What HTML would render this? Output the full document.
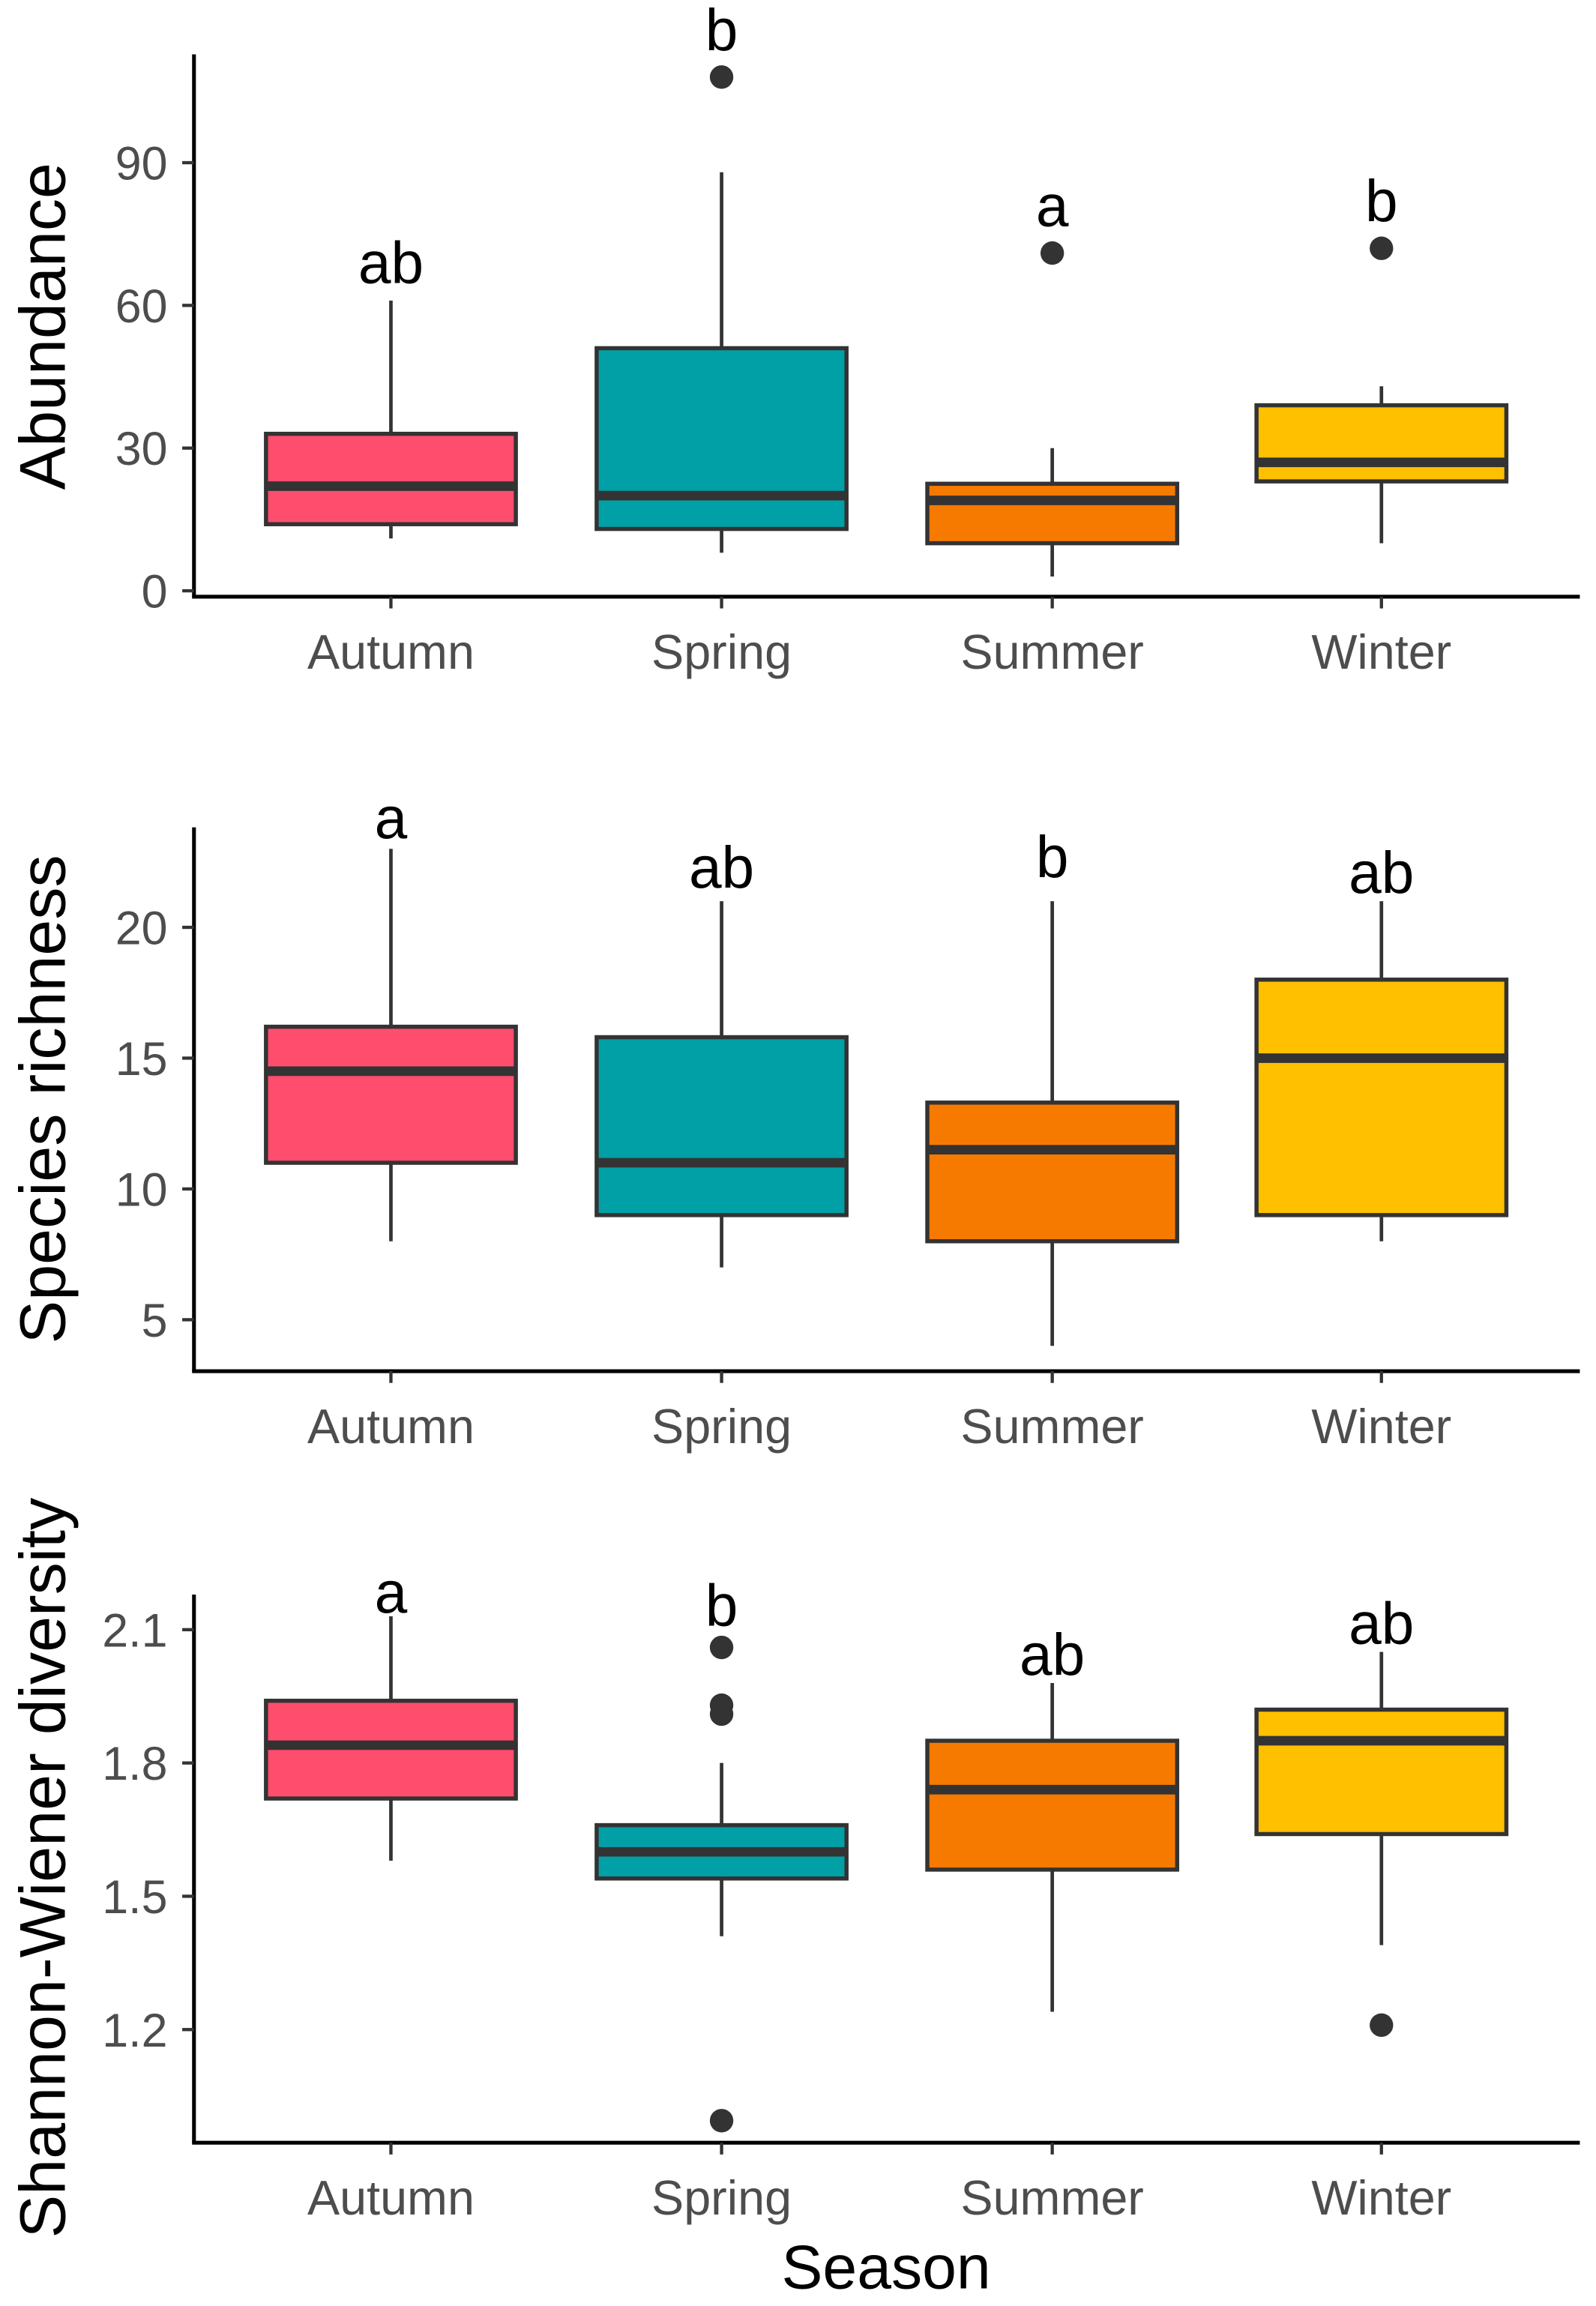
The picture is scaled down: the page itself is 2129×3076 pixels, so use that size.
<!DOCTYPE html>
<html><head><meta charset="utf-8"><style>
html,body{margin:0;padding:0;background:#fff;}
svg{display:block;}
text{font-family:"Liberation Sans",Arial,sans-serif;}
</style></head><body>
<svg id="chart" width="2129" height="3076" viewBox="0 0 1086 1569.1" preserveAspectRatio="none" xmlns="http://www.w3.org/2000/svg"></svg>
<script>
const categories = ["Autumn","Spring","Summer","Winter"];
const colors = ["#FF4D6D","#00A0A6","#F77A00","#FFC000"];
// Abundance
const abLow = [11,8,3,10];
const abQ1 = [14,13,10,23];
const abMed = [22,20,19,27];
const abQ3 = [33,51,22.5,39];
const abHigh = [61,88,30,43];
const abOut = [[],[108],[71],[72]];
const abLetters = ["ab","b","a","b"];
const abLetterY = [69,118,81,82];
const abTicks = [0,30,60,90];
// Species richness
const srLow = [8,7,4,8];
const srQ1 = [11,9,8,9];
const srMed = [14.5,11,11.5,15];
const srQ3 = [16.2,15.8,13.3,18];
const srHigh = [23,21,21,21];
const srOut = [[],[],[],[]];
const srLetters = ["a","ab","b","ab"];
const srLetterY = [24.2,22.3,22.7,22.1];
const srTicks = [5,10,15,20];
// Shannon-Wiener
const swLow = [1.58,1.41,1.24,1.39];
const swQ1 = [1.72,1.54,1.56,1.64];
const swMed = [1.84,1.60,1.74,1.85];
const swQ3 = [1.94,1.66,1.85,1.92];
const swHigh = [2.13,1.80,1.98,2.05];
const swOut = [[],[2.06,1.93,1.91,0.995],[],[1.21]];
const swLetters = ["a","b","ab","ab"];
const swLetterY = [2.185,2.155,2.045,2.115];
const swTicks = [1.2,1.5,1.8,2.1];

const NS="http://www.w3.org/2000/svg";
const svg=document.getElementById('chart');
function mk(tag,attrs,parent,txt){const e=document.createElementNS(NS,tag);for(const k in attrs)e.setAttribute(k,attrs[k]);if(txt!==undefined)e.textContent=txt;(parent||svg).appendChild(e);return e;}
const xPos=[266,491,716,940];
function xScale(i){return xPos[i];}

function panel(cfg){
  const g=mk('g',{});
  
  
  const y=v=>cfg.y0+(v-cfg.v0)*cfg.k;
  const ya=mk('line',{x1:132,y1:cfg.top,x2:132,y2:cfg.bottom,stroke:'#000','stroke-width':2.6},g);
  
  const xa=mk('line',{x1:130.7,y1:cfg.bottom,x2:1075,y2:cfg.bottom,stroke:'#000','stroke-width':2.6},g);
  
  cfg.ticks.forEach(t=>{
    const yy=y(t);
    const tk=mk('line',{x1:124,y1:yy,x2:132,y2:yy,stroke:'#333','stroke-width':2.2},g);
    
    const tl=mk('text',{x:114,y:yy+11.5,'text-anchor':'end','font-size':32,fill:'#4d4d4d'},g,String(t));
    
  });
  categories.forEach((c,i)=>{
    const x=xScale(i);
    const tk=mk('line',{x1:x,y1:cfg.bottom,x2:x,y2:cfg.bottom+8,stroke:'#333','stroke-width':2.2},g);
    
    const tl=mk('text',{x:x,y:cfg.bottom+49,'text-anchor':'middle','font-size':33,fill:'#4d4d4d'},g,c);
    
    const bg=mk('g',{},g);
    
    
    const w1=mk('line',{x1:x,y1:y(cfg.high[i]),x2:x,y2:y(cfg.q3[i]),stroke:'#333','stroke-width':2.4},bg);
    
    const w2=mk('line',{x1:x,y1:y(cfg.q1[i]),x2:x,y2:y(cfg.low[i]),stroke:'#333','stroke-width':2.4},bg);
    
    const r=mk('rect',{x:x-85,y:y(cfg.q3[i]),width:170,height:y(cfg.q1[i])-y(cfg.q3[i]),fill:colors[i],stroke:'#333','stroke-width':2.8},bg);
    
    const m=mk('line',{x1:x-85,y1:y(cfg.med[i]),x2:x+85,y2:y(cfg.med[i]),stroke:'#333','stroke-width':6.5},bg);
    
    cfg.out[i].forEach(o=>{
      const p=mk('circle',{cx:x,cy:y(o),r:8,fill:'#333'},bg);
      
    });
    const lt=mk('text',{x:x,y:y(cfg.letterY[i])+14,'text-anchor':'middle','font-size':40,fill:'#000'},g,cfg.letters[i]);
    
  });
  const at=mk('text',{x:0,y:0,'text-anchor':'middle','font-size':44,fill:'#000',transform:`translate(${cfg.titleX},${cfg.titleY}) rotate(-90)`},g,cfg.title);
  
}

panel({name:'abundance',top:37,bottom:406,y0:402,v0:0,k:-97.1/30,ticks:abTicks,low:abLow,q1:abQ1,med:abMed,q3:abQ3,high:abHigh,out:abOut,letters:abLetters,letterY:abLetterY,title:'Abundance',titleX:44,titleY:222});
panel({name:'richness',top:563,bottom:933,y0:898,v0:5,k:-89/5,ticks:srTicks,low:srLow,q1:srQ1,med:srMed,q3:srQ3,high:srHigh,out:srOut,letters:srLetters,letterY:srLetterY,title:'Species richness',titleX:44,titleY:748});
panel({name:'shannon',top:1085,bottom:1458,y0:1381,v0:1.2,k:-90.7/0.3,ticks:swTicks,low:swLow,q1:swQ1,med:swMed,q3:swQ3,high:swHigh,out:swOut,letters:swLetters,letterY:swLetterY,title:'Shannon-Wiener diversity',titleX:44,titleY:1271});

const xt=mk('text',{x:603,y:1557,'text-anchor':'middle','font-size':42,fill:'#000'},svg,'Season');


</script>
</body></html>
